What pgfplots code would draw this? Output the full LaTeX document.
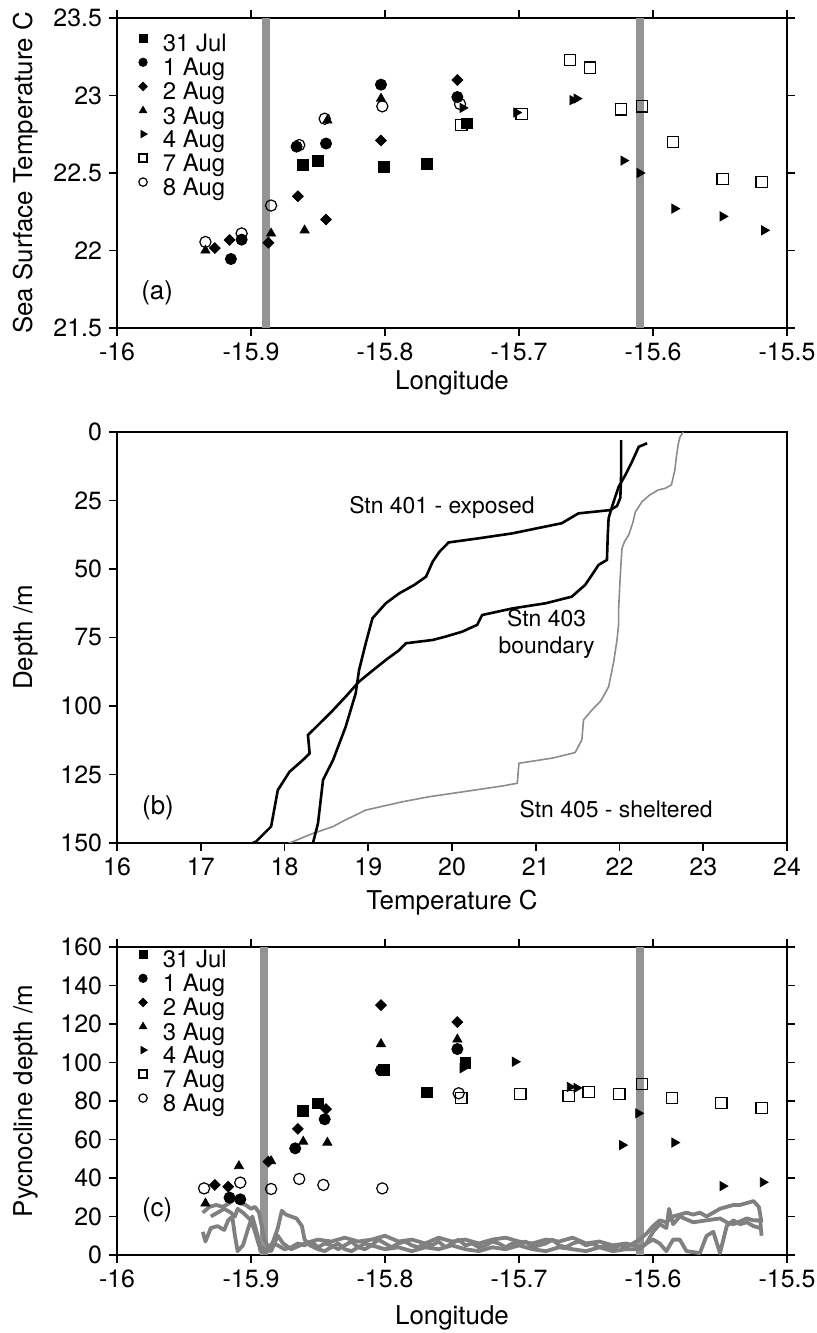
\documentclass[border=0pt]{standalone}
\usepackage{fontspec}
\setmainfont{TeX Gyre Heros}
\usepackage{pgfplots}
\pgfplotsset{compat=1.18}
\pgfplotsset{
 common/.style={scale only axis, width=335bp, tick align=outside, major tick length=4bp,
   axis line style={line width=0.9bp}, tick style={line width=0.9bp, black},
   /pgf/number format/assume math mode=true,
   ticklabel style={font=\fontsize{12.5}{14}\selectfont},
   every axis y label/.style={at={(axis description cs:-0.1358,0.5)}, rotate=90, anchor=center, font=\fontsize{13}{15}\selectfont},
   legend cell align=left,
   legend style={draw=none, fill=none, inner sep=0pt, outer sep=0pt, row sep=0pt, column sep=7.8bp,
     nodes={inner sep=0pt, outer sep=0pt, text height=8.3bp, text depth=3.2bp, font=\fontsize{12}{13}\selectfont},
     at={(axis description cs:0,1)}, anchor=north west, xshift=10.9bp},
 },
 xl/.style={every axis x label/.style={at={(axis description cs:0.5,#1)}, anchor=center, font=\fontsize{13}{15}\selectfont}},
 lg/.style={legend image code/.code={\draw[##1,mark size=#1] plot coordinates {(0bp,4.2bp)};}},
 s31/.style={only marks, black, mark=square*, mark size=2.7bp, lg=2bp},
 s1/.style={only marks, black, mark=*, mark size=2.8bp, lg=2.1bp},
 s2/.style={only marks, black, mark=square*, mark options={rotate=45}, mark size=1.9bp, lg=1.5bp},
 s3/.style={only marks, black, mark=triangle*, mark size=2.6bp, lg=2.1bp},
 s4/.style={only marks, black, mark=triangle*, mark options={rotate=-90}, mark size=2.6bp, lg=2.1bp},
 s7/.style={only marks, black, mark=square, mark size=2.8bp, mark options={line width=0.6bp}, lg=2bp},
 s8/.style={only marks, black, mark=o, mark size=2.8bp, mark options={line width=0.6bp}, lg=2.1bp},
 band/.style={fill=black!42, draw=none, forget plot},
 trace/.style={black!50, line width=1.9bp, line join=round, forget plot},
}
\begin{document}
\begin{tikzpicture}
\useasboundingbox (0,0) rectangle (408.5bp,666.5bp);
% ---------------- panel (a)
\begin{axis}[common, height=155bp, at={(58.5bp,502.5bp)}, anchor=south west,
  xmin=-16, xmax=-15.5, ymin=21.5, ymax=23.5,
  xtick={-16,-15.9,-15.8,-15.7,-15.6,-15.5}, ytick={21.5,22,22.5,23,23.5},
  xtick pos=both, ytick pos=both, xticklabel pos=lower, yticklabel pos=left,
  xlabel={Longitude}, ylabel={Sea Surface Temperature C},
  xl=-0.177,
  legend style={yshift=-8.1bp}]
\addplot[band] coordinates {(-15.892,21.5) (-15.886,21.5) (-15.886,23.5) (-15.892,23.5)} -- cycle;
\addplot[band] coordinates {(-15.613,21.5) (-15.607,21.5) (-15.607,23.5) (-15.613,23.5)} -- cycle;
\addplot[s31] coordinates {(-15.861,22.55) (-15.850,22.58) (-15.801,22.54) (-15.769,22.56) (-15.739,22.82)};
\addlegendentry{31 Jul}
\addplot[s1] coordinates {(-15.915,21.945) (-15.907,22.07) (-15.866,22.67) (-15.844,22.69) (-15.803,23.07) (-15.746,22.99)};
\addlegendentry{1 Aug}
\addplot[s2] coordinates {(-15.927,22.016) (-15.916,22.068) (-15.887,22.05) (-15.865,22.35) (-15.844,22.20) (-15.803,22.71) (-15.746,23.10)};
\addlegendentry{2 Aug}
\addplot[s3] coordinates {(-15.934,22.00) (-15.885,22.11) (-15.860,22.13) (-15.843,22.84) (-15.803,22.98)};
\addlegendentry{3 Aug}
\addplot[s4] coordinates {(-15.742,22.92) (-15.702,22.89) (-15.660,22.97) (-15.657,22.98) (-15.622,22.58) (-15.610,22.50) (-15.584,22.27) (-15.548,22.22) (-15.517,22.13)};
\addlegendentry{4 Aug}
\addplot[s7] coordinates {(-15.743,22.81) (-15.698,22.88) (-15.662,23.23) (-15.647,23.18) (-15.624,22.91) (-15.608,22.93) (-15.585,22.70) (-15.548,22.46) (-15.519,22.44)};
\addlegendentry{7 Aug}
\addplot[s8] coordinates {(-15.934,22.055) (-15.907,22.11) (-15.885,22.29) (-15.864,22.68) (-15.845,22.85) (-15.802,22.93) (-15.744,22.945)};
\addlegendentry{8 Aug}
\node[font=\fontsize{13}{15}\selectfont] at (axis cs:-15.970,21.73) {(a)};
\end{axis}
% ---------------- panel (b)
\begin{axis}[common, height=205.5bp, at={(58.5bp,245bp)}, anchor=south west,
  xmin=16, xmax=24, ymin=0, ymax=150, y dir=reverse,
  xtick={16,17,...,24}, ytick={0,25,50,75,100,125,150},
  xtick pos=bottom, ytick pos=left,
  xlabel={Temperature C}, ylabel={Depth /m},
  xl=-0.146]
\addplot[black!45, line width=0.8bp] coordinates {(22.76,0) (22.72,2) (22.70,4.7) (22.68,9) (22.66,14) (22.62,19.3) (22.55,20.5) (22.46,21.2) (22.36,23) (22.27,25.4) (22.19,29.1) (22.16,33) (22.11,37.6) (22.06,40) (22.03,42.5) (22.02,47) (22.01,52.2) (22.00,58) (21.99,64.4) (21.99,70) (21.97,75.9) (21.93,84) (21.87,93) (21.78,98) (21.67,101.5) (21.57,105.1) (21.56,109) (21.55,112.4) (21.47,117) (21.2,119) (20.80,120.9) (20.79,124) (20.78,128.2) (20.60,129.2) (20.40,130.1) (20.0,131.9) (19.73,133.1) (19.40,135) (18.97,138) (18.89,139.2) (18.70,142) (18.58,144) (18.34,146.5) (18.10,149.5) (18.05,150)};
\addplot[black, line width=1.3bp] coordinates {(22.02,3) (22.02,15) (22.01,24) (21.97,27) (21.89,28.5) (21.51,29.7) (21.31,33.3) (20.72,37) (20.32,38.8) (19.96,40.3) (19.85,43.7) (19.77,47.3) (19.69,52.8) (19.55,55.8) (19.37,58.9) (19.21,62.5) (19.05,68) (18.97,77.1) (18.89,86.9) (18.85,95.4) (18.73,107.6) (18.58,119.7) (18.46,127) (18.40,142.8) (18.34,150)};
\addplot[black, line width=1.3bp] coordinates {(22.33,4.1) (22.23,5.4) (22.15,10.8) (22.07,15.7) (21.99,20) (21.95,23.6) (21.91,27.3) (21.87,31.5) (21.86,37.6) (21.85,46.7) (21.75,48.5) (21.67,52.2) (21.59,55.8) (21.43,60.1) (21.12,62.5) (20.72,64.4) (20.36,66.8) (20.30,70.4) (20.12,72.9) (19.92,74.7) (19.77,75.9) (19.45,77.1) (19.37,79.6) (19.21,83.2) (19.01,88.1) (18.89,91.1) (18.73,96.6) (18.58,101.5) (18.38,107.6) (18.28,110.6) (18.30,117.3) (18.22,119.7) (18.06,124) (17.92,130.7) (17.84,144) (17.66,149.5) (17.62,150)};
\node[font=\fontsize{11.5}{13.5}\selectfont] at (axis cs:19.88,27.4) {Stn 401 - exposed};
\node[font=\fontsize{11.5}{13.5}\selectfont, align=center] at (axis cs:21.13,73.7) {Stn 403\\boundary};
\node[font=\fontsize{11.5}{13.5}\selectfont] at (axis cs:21.96,137.6) {Stn 405 - sheltered};
\node[font=\fontsize{13}{15}\selectfont] at (axis cs:16.49,137) {(b)};
\end{axis}
% ---------------- panel (c)
\begin{axis}[common, height=154bp, at={(58.5bp,39bp)}, anchor=south west,
  xmin=-16, xmax=-15.5, ymin=0, ymax=160,
  xtick={-16,-15.9,-15.8,-15.7,-15.6,-15.5}, ytick={0,20,...,160},
  xtick pos=both, ytick pos=both, xticklabel pos=lower, yticklabel pos=left,
  xlabel={Longitude}, ylabel={Pycnocline depth /m},
  xl=-0.205,
  legend style={yshift=-1.6bp}]
\addplot[band] coordinates {(-15.893,0) (-15.887,0) (-15.887,160) (-15.893,160)} -- cycle;
\addplot[band] coordinates {(-15.613,0) (-15.607,0) (-15.607,160) (-15.613,160)} -- cycle;
\addplot[trace] coordinates {(-15.936,22) (-15.931,25) (-15.926,26) (-15.921,25) (-15.916,27) (-15.912,29) (-15.908,27) (-15.904,26) (-15.900,24) (-15.897,25) (-15.894,22) (-15.892,15) (-15.890,8) (-15.887,4) (-15.884,6) (-15.880,5) (-15.875,3) (-15.870,4) (-15.865,6) (-15.860,5) (-15.855,7) (-15.850,4) (-15.845,6) (-15.840,5) (-15.835,3) (-15.830,5) (-15.825,7) (-15.820,4) (-15.815,6) (-15.810,5) (-15.805,8) (-15.800,6) (-15.795,4) (-15.790,6) (-15.785,7) (-15.780,5) (-15.775,4) (-15.770,6) (-15.765,5) (-15.760,7) (-15.755,4) (-15.750,6) (-15.745,8) (-15.740,5) (-15.735,6) (-15.730,4) (-15.725,5) (-15.720,7) (-15.715,6) (-15.710,4) (-15.705,6) (-15.700,5) (-15.695,7) (-15.690,4) (-15.685,5) (-15.680,6) (-15.675,8) (-15.670,5) (-15.665,4) (-15.660,6) (-15.655,7) (-15.650,5) (-15.645,6) (-15.640,4) (-15.635,5) (-15.630,3) (-15.625,5) (-15.620,4) (-15.615,6) (-15.610,8) (-15.605,11) (-15.600,15) (-15.595,18) (-15.590,17) (-15.585,20) (-15.580,21) (-15.575,22) (-15.570,21) (-15.565,22) (-15.560,20) (-15.555,22) (-15.550,24) (-15.545,25) (-15.540,26) (-15.535,26) (-15.530,27) (-15.525,28) (-15.521,25) (-15.519,17)};
\addplot[trace] coordinates {(-15.936,12) (-15.934,7) (-15.930,14) (-15.925,15) (-15.920,13) (-15.917,18) (-15.914,20) (-15.912,10) (-15.910,2) (-15.906,5) (-15.902,14) (-15.899,20) (-15.895,10) (-15.893,2) (-15.889,1) (-15.884,6) (-15.880,14) (-15.877,23) (-15.874,21) (-15.870,20) (-15.866,19) (-15.862,15) (-15.860,8) (-15.856,5) (-15.850,3) (-15.845,2) (-15.840,4) (-15.835,6) (-15.830,3) (-15.825,2) (-15.820,4) (-15.815,3) (-15.810,5) (-15.800,3) (-15.790,4) (-15.780,2) (-15.770,4) (-15.760,3) (-15.750,5) (-15.740,3) (-15.730,2) (-15.720,4) (-15.710,3) (-15.700,5) (-15.690,3) (-15.680,2) (-15.670,4) (-15.660,3) (-15.650,2) (-15.640,4) (-15.630,2) (-15.620,3) (-15.610,3) (-15.605,6) (-15.600,12) (-15.595,16) (-15.590,14) (-15.588,24) (-15.585,16) (-15.580,20) (-15.570,17) (-15.560,18) (-15.550,19) (-15.545,17) (-15.540,16) (-15.530,19) (-15.525,18) (-15.520,18) (-15.519,10)};
\addplot[trace] coordinates {(-15.930,20) (-15.925,22) (-15.920,24) (-15.915,22) (-15.912,20) (-15.910,24) (-15.906,22) (-15.900,18) (-15.897,12) (-15.894,5) (-15.890,3) (-15.885,2) (-15.880,10) (-15.876,6) (-15.870,3) (-15.860,6) (-15.850,8) (-15.840,7) (-15.830,9) (-15.820,7) (-15.810,8) (-15.800,10) (-15.790,7) (-15.780,8) (-15.770,6) (-15.760,9) (-15.750,7) (-15.740,8) (-15.730,6) (-15.720,8) (-15.710,9) (-15.700,7) (-15.690,6) (-15.680,8) (-15.670,7) (-15.660,9) (-15.650,6) (-15.640,7) (-15.630,5) (-15.620,6) (-15.610,4) (-15.600,8) (-15.595,6) (-15.590,2) (-15.585,8) (-15.580,8) (-15.575,2) (-15.565,1) (-15.560,10) (-15.555,12) (-15.550,1) (-15.545,15) (-15.540,18) (-15.535,16) (-15.530,17) (-15.525,15) (-15.520,14)};
\addplot[s31] coordinates {(-15.861,74.8) (-15.850,78.8) (-15.801,96) (-15.769,84.5) (-15.740,100)};
\addlegendentry{31 Jul}
\addplot[s1] coordinates {(-15.916,29.8) (-15.908,28.9) (-15.867,55.4) (-15.845,70.5) (-15.803,96) (-15.746,107)};
\addlegendentry{1 Aug}
\addplot[s2] coordinates {(-15.927,36.4) (-15.917,35.5) (-15.887,48.5) (-15.865,65.5) (-15.844,75.8) (-15.803,129.8) (-15.746,121)};
\addlegendentry{2 Aug}
\addplot[s3] coordinates {(-15.934,26.8) (-15.909,46.2) (-15.885,48.8) (-15.861,58.9) (-15.843,58.4) (-15.803,109.6) (-15.746,112)};
\addlegendentry{3 Aug}
\addplot[s4] coordinates {(-15.742,97) (-15.703,100.4) (-15.662,87.3) (-15.657,86.8) (-15.623,57.1) (-15.611,73.6) (-15.584,58.4) (-15.548,35.8) (-15.518,37.8)};
\addlegendentry{4 Aug}
\addplot[s7] coordinates {(-15.743,81.7) (-15.699,83.7) (-15.663,82.6) (-15.648,84.7) (-15.625,83.7) (-15.608,88.8) (-15.586,81.6) (-15.549,79) (-15.519,76.4)};
\addlegendentry{7 Aug}
\addplot[s8] coordinates {(-15.935,34.6) (-15.908,37.6) (-15.885,34.3) (-15.864,39.5) (-15.846,36.4) (-15.802,34.6) (-15.745,84)};
\addlegendentry{8 Aug}
\node[font=\fontsize{13}{15}\selectfont] at (axis cs:-15.970,23.4) {(c)};
\end{axis}
\end{tikzpicture}
\end{document}
